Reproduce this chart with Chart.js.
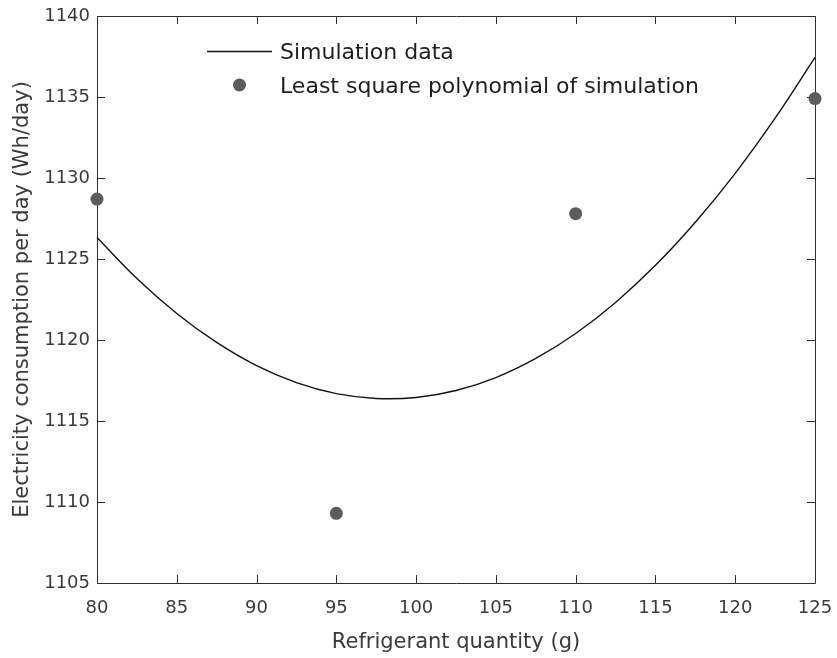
<!DOCTYPE html>
<html>
<head>
<meta charset="utf-8">
<script src="https://cdn.jsdelivr.net/npm/chart.js@4.4.1/dist/chart.umd.min.js"></script>
<style>
  html, body { margin: 0; padding: 0; background: #fff; }
  canvas { display: block; }
</style>
</head>
<body>
<canvas id="fitChart" width="837" height="658"></canvas>
<script>
// values
const curveX = [80, 82.5, 85, 87.5, 90, 92.5, 95, 97.5, 100, 102.5, 105, 107.5, 110, 112.5, 115, 117.5, 120, 122.5, 125];
const curveY = [1126.33, 1123.80, 1121.64, 1119.85, 1118.42, 1117.37, 1116.69, 1116.39, 1116.45, 1116.88, 1117.68, 1118.86, 1120.40, 1122.32, 1124.61, 1127.27, 1130.29, 1133.69, 1137.44];
const pointX = [80, 95, 110, 125];
const pointY = [1128.7, 1109.3, 1127.8, 1134.9];
const xTicks = [80, 85, 90, 95, 100, 105, 110, 115, 120, 125];
const yTicks = [1105, 1110, 1115, 1120, 1125, 1130, 1135, 1140];

const seriesLabels = ["Simulation data", "Least square polynomial of simulation"];
const xTitle = "Refrigerant quantity (g)";
const yTitle = "Electricity consumption per day (Wh/day)";

const FONT = "'DejaVu Sans', sans-serif";
const TEXT = "#3a3a3a";
const AXIS = "#303030";
const DOT = "#5c5c5c";

// matlab style box with inward ticks on all four sides
const boxPlugin = {
  id: "box",
  beforeDatasetsDraw(chart) {
    const { ctx, chartArea: a, scales } = chart;
    const len = 8;
    ctx.save();
    ctx.strokeStyle = AXIS;
    ctx.lineWidth = 1;
    ctx.beginPath();
    ctx.rect(Math.round(a.left) + 0.5, Math.round(a.top) + 0.5,
             Math.round(a.right - a.left), Math.round(a.bottom - a.top));
    scales.x.ticks.forEach(t => {
      const px = Math.round(scales.x.getPixelForValue(t.value)) + 0.5;
      ctx.moveTo(px, a.bottom); ctx.lineTo(px, a.bottom - len);
      ctx.moveTo(px, a.top); ctx.lineTo(px, a.top + len);
    });
    scales.y.ticks.forEach(t => {
      const py = Math.round(scales.y.getPixelForValue(t.value)) + 0.5;
      ctx.moveTo(a.left, py); ctx.lineTo(a.left + len, py);
      ctx.moveTo(a.right, py); ctx.lineTo(a.right - len, py);
    });
    ctx.stroke();
    ctx.restore();
  }
};

// legend inside the plot, no frame
const legendPlugin = {
  id: "insideLegend",
  afterDraw(chart) {
    const ctx = chart.ctx;
    const ds = chart.data.datasets;
    const x0 = 207, lineW = 65, textX = 280;
    const rows = [52, 86];
    ctx.save();
    ctx.font = "22px " + FONT;
    ctx.textBaseline = "middle";
    ctx.fillStyle = "#1e1e1e";

    ctx.strokeStyle = ds[0].borderColor;
    ctx.lineWidth = ds[0].borderWidth;
    ctx.beginPath();
    ctx.moveTo(x0, rows[0] - 0.5);
    ctx.lineTo(x0 + lineW, rows[0] - 0.5);
    ctx.stroke();
    ctx.fillText(ds[0].label, textX, rows[0] + 1);

    ctx.fillStyle = ds[1].backgroundColor;
    ctx.beginPath();
    ctx.arc(x0 + lineW / 2, rows[1] - 1, ds[1].pointRadius, 0, Math.PI * 2);
    ctx.fill();
    ctx.fillStyle = "#1e1e1e";
    ctx.fillText(ds[1].label, textX, rows[1] + 1);
    ctx.restore();
  }
};

const ctx = document.getElementById("fitChart").getContext("2d");
new Chart(ctx, {
  type: "scatter",
  data: {
    datasets: [
      {
        label: seriesLabels[0],
        type: "line",
        data: curveX.map((x, i) => ({ x: x, y: curveY[i] })),
        borderColor: "#111",
        borderWidth: 1.4,
        pointRadius: 0,
        tension: 0.4,
        fill: false,
        clip: false
      },
      {
        label: seriesLabels[1],
        data: pointX.map((x, i) => ({ x: x, y: pointY[i] })),
        backgroundColor: DOT,
        borderColor: DOT,
        borderWidth: 0,
        pointRadius: 6.5,
        clip: false
      }
    ]
  },
  options: {
    responsive: false,
    animation: false,
    layout: { padding: { left: 0, top: 16, right: 22, bottom: 0 } },
    plugins: {
      legend: { display: false },
      tooltip: { enabled: false }
    },
    scales: {
      x: {
        type: "linear",
        min: xTicks[0],
        max: xTicks[xTicks.length - 1],
        afterBuildTicks: s => { s.ticks = xTicks.map(v => ({ value: v })); },
        afterFit: s => { s.height = 75; s.paddingLeft = 0; s.paddingRight = 0; },
        grid: { display: false, drawTicks: false },
        border: { display: false },
        ticks: { color: TEXT, font: { family: FONT, size: 18 }, padding: 15, maxRotation: 0,
                 callback: v => String(v) },
        title: {
          display: true, text: xTitle, color: TEXT,
          font: { family: FONT, size: 21 }, padding: { top: 0, bottom: 3 }
        }
      },
      y: {
        min: yTicks[0],
        max: yTicks[yTicks.length - 1],
        afterBuildTicks: s => { s.ticks = yTicks.map(v => ({ value: v })); },
        afterFit: s => { s.width = 97; s.paddingTop = 0; s.paddingBottom = 0; },
        grid: { display: false, drawTicks: false },
        border: { display: false },
        ticks: { color: TEXT, font: { family: FONT, size: 18 }, padding: 7,
                 callback: v => String(v) },
        title: {
          display: true, text: yTitle, color: TEXT,
          font: { family: FONT, size: 21 }, padding: { top: 10, bottom: 0 }
        }
      }
    }
  },
  plugins: [boxPlugin, legendPlugin]
});
</script>
</body>
</html>
